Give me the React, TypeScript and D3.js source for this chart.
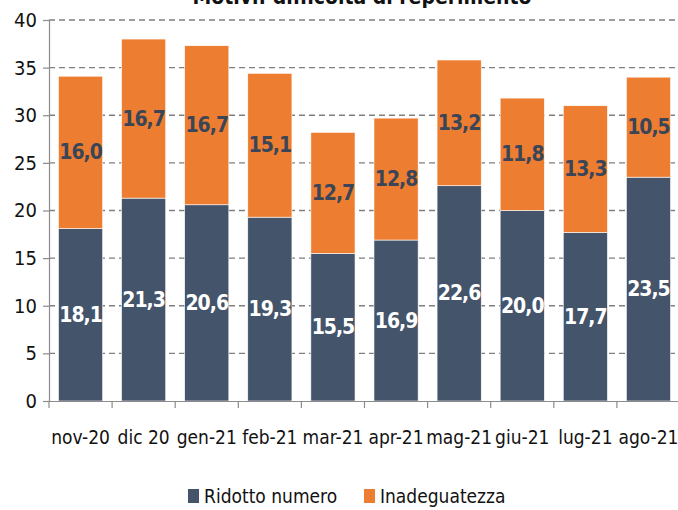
import { useEffect, useRef } from 'react';
import * as d3 from 'd3';

// Dati
const categories = ['nov-20', 'dic 20', 'gen-21', 'feb-21', 'mar-21', 'apr-21', 'mag-21', 'giu-21', 'lug-21', 'ago-21'];
const ridottoNumero = [18.1, 21.3, 20.6, 19.3, 15.5, 16.9, 22.6, 20.0, 17.7, 23.5];
const inadeguatezza = [16.0, 16.7, 16.7, 15.1, 12.7, 12.8, 13.2, 11.8, 13.3, 10.5];
const seriesNames = ['Ridotto numero', 'Inadeguatezza'];
const yTicks = [0, 5, 10, 15, 20, 25, 30, 35, 40];
const title = 'Motivi: difficoltà di reperimento';

const COLORS = ['#44546A', '#ED7D31'];
const FONT = '"DejaVu Sans Condensed", "DejaVu Sans", sans-serif';

export default function App() {
    const svgRef = useRef<SVGSVGElement>(null);

    useEffect(() => {
        if (!svgRef.current) return;
        const svg = d3.select(svgRef.current);
        svg.selectAll('*').remove();

        const left = 49, right = 680, top = 20, bottom = 401;

        const x = d3.scaleBand<string>().domain(categories).range([left, right]).paddingInner(0.3).paddingOuter(0.15);
        const y = d3.scaleLinear().domain([0, 40]).range([bottom, top]);

        // titolo (tagliato in alto come nell'originale)
        svg.append('text')
            .attr('x', 362).attr('y', 4)
            .attr('text-anchor', 'middle')
            .attr('font-family', FONT).attr('font-weight', 'bold').attr('font-size', 21)
            .attr('fill', '#111')
            .text(title);

        // griglia tratteggiata
        svg.append('g').selectAll('line')
            .data(yTicks.filter(t => t > 0))
            .enter().append('line')
            .attr('x1', left).attr('x2', right)
            .attr('y1', d => y(d)).attr('y2', d => y(d))
            .attr('stroke', '#7f7f7f').attr('stroke-width', 1.3)
            .attr('stroke-dasharray', '6,4');

        // barre impilate
        const rows = categories.map((c, i) => ({ cat: c, a: ridottoNumero[i], b: inadeguatezza[i] }));
        const stack = d3.stack<{ cat: string; a: number; b: number }>().keys(['a', 'b']);
        const layers = stack(rows);

        layers.forEach((layer, li) => {
            const g = svg.append('g');
            g.selectAll('rect')
                .data(layer)
                .enter().append('rect')
                .attr('x', d => x(d.data.cat)!)
                .attr('width', x.bandwidth())
                .attr('y', d => y(d[1]))
                .attr('height', d => y(d[0]) - y(d[1]))
                .attr('fill', COLORS[li])
                .attr('stroke', '#fff').attr('stroke-width', 0.6);

            g.selectAll('text')
                .data(layer)
                .enter().append('text')
                .attr('x', d => x(d.data.cat)! + x.bandwidth() / 2)
                .attr('y', d => y((d[0] + d[1]) / 2) + 7)
                .attr('text-anchor', 'middle')
                .attr('font-family', FONT).attr('font-weight', 'bold').attr('font-size', 21)
                .attr('letter-spacing', -1)
                .attr('fill', li === 0 ? '#ffffff' : '#3a4558')
                .text(d => (d[1] - d[0]).toFixed(1).replace('.', ','));
        });

        // asse y
        const yAxis = svg.append('g')
            .attr('transform', `translate(${left},0)`)
            .call(d3.axisLeft(y).tickValues(yTicks).tickSize(6).tickPadding(6).tickFormat(d => String(d)));
        yAxis.select('.domain').attr('stroke', '#8c8c8c').attr('stroke-width', 1.2);
        yAxis.selectAll('.tick line').attr('stroke', '#8c8c8c').attr('stroke-width', 1.2);
        yAxis.selectAll('.tick text')
            .attr('font-family', FONT).attr('font-size', 20).attr('fill', '#111');

        // asse x
        const xAxis = svg.append('g')
            .attr('transform', `translate(0,${bottom})`)
            .call(d3.axisBottom(x).tickSize(0).tickPadding(30));
        xAxis.select('.domain').attr('stroke', '#8c8c8c').attr('stroke-width', 1.2);
        xAxis.selectAll('.tick text')
            .attr('font-family', FONT).attr('font-size', 19).attr('fill', '#111');

        // tacche tra le categorie
        const bounds = categories.map((_, i) => left + i * (right - left) / categories.length);
        svg.append('g').selectAll('line')
            .data(bounds)
            .enter().append('line')
            .attr('x1', d => d).attr('x2', d => d)
            .attr('y1', bottom).attr('y2', bottom + 7)
            .attr('stroke', '#8c8c8c').attr('stroke-width', 1.2);

        // legenda
        const legendX = [188, 364];
        seriesNames.forEach((name, i) => {
            svg.append('rect')
                .attr('x', legendX[i]).attr('y', 489)
                .attr('width', 11).attr('height', 14)
                .attr('fill', COLORS[i]);
            svg.append('text')
                .attr('x', legendX[i] + 16).attr('y', 503)
                .attr('font-family', FONT).attr('font-size', 19).attr('fill', '#111')
                .text(name);
        });
    }, []);

    return (
        <svg
            ref={svgRef}
            width={678}
            height={510}
            style={{ position: 'absolute', left: 0, top: 0, background: '#fff' }}
        />
    );
}
